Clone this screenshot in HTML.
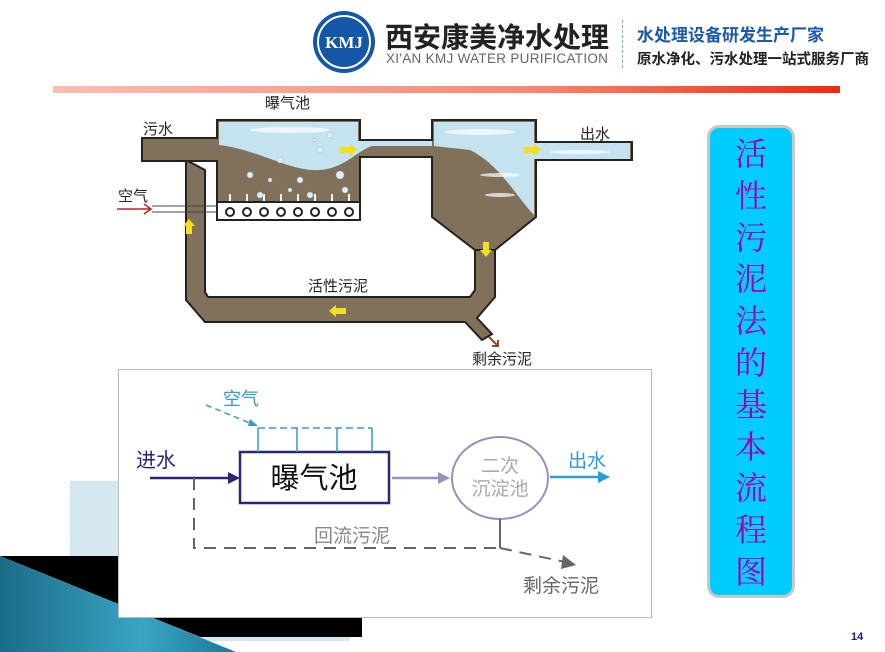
<!DOCTYPE html>
<html><head><meta charset="utf-8"><style>
html,body{margin:0;padding:0;background:#fff;}
body{width:885px;height:652px;position:relative;overflow:hidden;font-family:"Liberation Sans","Noto Sans CJK SC",sans-serif;}
.a{position:absolute;white-space:nowrap;}
</style></head><body>
<div class="a" style="left:70px;top:481px;width:280px;height:160px;background:#d5e7ef"></div>
<svg class="a" style="left:0;top:0" width="885" height="652">
<polygon points="0,556 287,556 287,617 362,617 362,637 200,637 0,556" fill="#000"/>
<defs><linearGradient id="tg" x1="0" y1="0" x2="1" y2="0"><stop offset="0" stop-color="#1a6c88"/><stop offset="0.6" stop-color="#3aa4c4"/><stop offset="1" stop-color="#1b7a98"/></linearGradient>
<linearGradient id="rb" x1="0" y1="0" x2="1" y2="0"><stop offset="0" stop-color="#fbbdb2"/><stop offset="0.6" stop-color="#f58a72"/><stop offset="1" stop-color="#ee2a10"/></linearGradient></defs>
<polygon points="0,556 236,652 0,652" fill="url(#tg)"/>
<rect x="53" y="86" width="787" height="7" fill="url(#rb)"/>
</svg>
<svg class="a" style="left:311px;top:9px" width="66" height="66"><circle cx="33" cy="33" r="31" fill="#1556a6"/><circle cx="33" cy="33" r="26" fill="none" stroke="#fff" stroke-width="2"/><text x="33" y="39" text-anchor="middle" fill="#fff" font-family="Liberation Serif" font-weight="bold" font-size="17">KMJ</text></svg>
<div class="a" style="left:385px;top:16px;font-size:28px;font-weight:bold;color:#222">西安康美净水处理</div>
<div class="a" style="left:386px;top:51px;font-size:13.5px;color:#666;letter-spacing:0.3px">XI'AN KMJ WATER PURIFICATION</div>
<div class="a" style="left:622px;top:20px;height:48px;border-left:1px dashed #7aaad8"></div>
<div class="a" style="left:637px;top:21px;font-size:17px;font-weight:bold;color:#1a5aa8">水处理设备研发生产厂家</div>
<div class="a" style="left:637px;top:48px;font-size:14.5px;font-weight:bold;color:#222">原水净化、污水处理一站式服务厂商</div>
<svg class="a" style="left:0;top:0" width="700" height="370" font-family="Liberation Sans,Noto Sans CJK SC,sans-serif">
<g stroke="#222" stroke-width="2">
<path d="M186,160 L186,300 L205,322 L465,322 L482,340 L492,334 L477,318 L495,297 L495,250 L475,250 L475,290 L470,297 L208,297 L205,292 L205,170 L186,160Z" fill="#81705a"/>
<path d="M142,138 L217,138 L217,120 L360,120 L360,140 L432,140 L432,120 L536,120 L536,142 L632,142 L632,160 L536,160 L536,217 L495,250 L475,250 L432,217 L432,157 L360,157 L360,220 L217,220 L217,161 L142,161Z" fill="#81705a"/>
</g>
<path d="M219,122 L358,122 L358,141 L432,141 L432,146 L372,146 C355,152 345,168 320,170 C290,172 260,150 219,145Z" fill="#c4e2ef"/>
<path d="M434,122 L534,122 L534,143 L630,143 L630,159 L534,159 L534,215 C515,195 500,165 470,150 L434,146Z" fill="#c4e2ef"/>
<g fill="#fff" opacity="0.7"><ellipse cx="290" cy="130" rx="40" ry="3"/><ellipse cx="480" cy="132" rx="35" ry="3"/><ellipse cx="580" cy="152" rx="30" ry="2"/><ellipse cx="500" cy="175" rx="20" ry="2"/><ellipse cx="500" cy="195" rx="15" ry="2"/></g>
<g fill="#dfeef6" stroke="#9bc" stroke-width="0.5">
<circle cx="250" cy="175" r="3"/><circle cx="280" cy="160" r="3"/><circle cx="300" cy="180" r="3"/><circle cx="320" cy="150" r="3"/><circle cx="340" cy="175" r="4"/><circle cx="260" cy="195" r="3"/><circle cx="330" cy="135" r="3"/><circle cx="310" cy="195" r="3"/><circle cx="290" cy="190" r="2"/><circle cx="345" cy="190" r="3"/><circle cx="270" cy="180" r="2"/><circle cx="315" cy="140" r="2"/></g>
<rect x="217" y="202" width="143" height="18" fill="#fff" stroke="#222" stroke-width="2"/>
<g stroke="#222" stroke-width="2" fill="none">
<circle cx="230" cy="212" r="4"/><circle cx="247" cy="212" r="4"/><circle cx="264" cy="212" r="4"/><circle cx="281" cy="212" r="4"/><circle cx="298" cy="212" r="4"/><circle cx="315" cy="212" r="4"/><circle cx="332" cy="212" r="4"/><circle cx="349" cy="212" r="4"/></g>
<g stroke="#fff" stroke-width="2"><path d="M230,201V194M247,201V194M264,201V194M281,201V194M298,201V194M315,201V194M332,201V194M349,201V194"/></g>
<path d="M152,206H217M152,212H217" stroke="#444" stroke-width="1"/>
<path d="M117,209H150M144,204L151,209L144,214" stroke="#c82020" stroke-width="1.5" fill="none"/>
<g fill="#f0e020">
<polygon points="340,147 350,147 350,144 357,150 350,156 350,153 340,153"/>
<polygon points="524,147 534,147 534,144 541,150 534,156 534,153 524,153"/>
<polygon points="186,234 186,226 183,226 189,219 195,226 192,226 192,234"/>
<polygon points="483,242 483,250 480,250 486,257 492,250 489,250 489,242"/>
<polygon points="346,308 336,308 336,305 329,311 336,317 336,314 346,314"/>
</g>
<path d="M489,337 L498,346 M492,346 L498,346 L498,340" stroke="#8a4a30" stroke-width="2" fill="none"/>
<g font-size="15" fill="#222">
<text x="265" y="108">曝气池</text><text x="143" y="134">污水</text><text x="580" y="139">出水</text><text x="118" y="201">空气</text><text x="308" y="291">活性污泥</text><text x="472" y="364">剩余污泥</text></g>
</svg>
<svg class="a" style="left:0;top:0" width="885" height="652" font-family="Liberation Sans,Noto Sans CJK SC,sans-serif">
<rect x="118.5" y="369.5" width="533" height="248" fill="#fff" stroke="#bbb"/>
<text x="136" y="467" font-size="20" fill="#2a2670">进水</text>
<path d="M150,478H230" stroke="#2a2670" stroke-width="2.5"/><polygon points="228,472 240,478 228,484" fill="#2a2670"/>
<rect x="240" y="452" width="149" height="51" fill="#fff" stroke="#2a2670" stroke-width="2.5"/>
<text x="314" y="488" text-anchor="middle" font-size="29" fill="#111">曝气池</text>
<path d="M258,428H372" stroke="#3a9ac8" stroke-width="1.5" stroke-dasharray="7,4" fill="none"/>
<path d="M297,428V452M337,428V452M258,428V452M372,428V452" stroke="#3a9ac8" stroke-width="1.5"/>
<path d="M206,405L252,424" stroke="#3a9ac8" stroke-width="1.5" stroke-dasharray="6,4"/><polygon points="250,419 258,426 248,426" fill="#3a9ac8"/>
<text x="223" y="405" font-size="18" fill="#3a9ac8">空气</text>
<path d="M392,478H440" stroke="#9a90c0" stroke-width="2.5"/><polygon points="438,472 450,478 438,484" fill="#9a90c0"/>
<ellipse cx="500" cy="478" rx="48" ry="41" fill="#fff" stroke="#9a90c0" stroke-width="2"/>
<text x="500" y="472" text-anchor="middle" font-size="19" fill="#aaa">二次</text>
<text x="500" y="495" text-anchor="middle" font-size="19" fill="#aaa">沉淀池</text>
<path d="M550,477H600" stroke="#2a9ad8" stroke-width="2.5"/><polygon points="598,471 610,477 598,483" fill="#2a9ad8"/>
<text x="568" y="467" font-size="19" fill="#2a9ad8">出水</text>
<path d="M194,478V548H500" stroke="#666" stroke-width="2" stroke-dasharray="12,8" fill="none"/>
<path d="M500,519V548" stroke="#666" stroke-width="2"/>
<path d="M500,548L565,562" stroke="#666" stroke-width="2" stroke-dasharray="12,8"/><polygon points="563,555 576,565 561,569" fill="#666"/>
<text x="314" y="542" font-size="19" fill="#888">回流污泥</text>
<text x="523" y="592" font-size="19" fill="#666">剩余污泥</text>
</svg>
<div class="a" style="left:707px;top:125px;width:88px;height:473px;background:#00ccff;border:3px solid #c8c8c8;border-radius:12px;box-sizing:border-box"></div>
<div class="a" style="left:707px;top:134px;width:88px;text-align:center;font-family:'Liberation Serif','Noto Serif CJK SC',serif;font-size:32px;line-height:41.8px;color:#a000b0;white-space:normal">活<br>性<br>污<br>泥<br>法<br>的<br>基<br>本<br>流<br>程<br>图</div>
<div class="a" style="left:851px;top:631px;font-size:11px;font-weight:bold;color:#1a1a6a">14</div>
</body></html>
